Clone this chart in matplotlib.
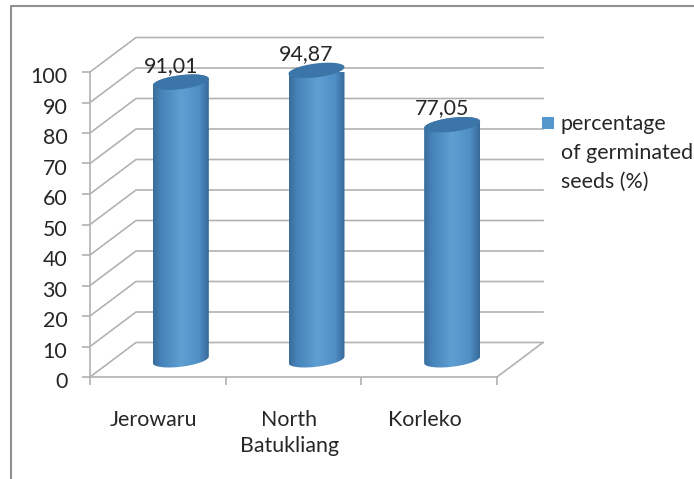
import numpy as np
import matplotlib
matplotlib.use("Agg")
import matplotlib.pyplot as plt
from matplotlib.colors import LinearSegmentedColormap
from matplotlib.lines import Line2D
from matplotlib.patches import PathPatch, Polygon, Rectangle
from matplotlib.path import Path
from matplotlib.transforms import ScaledTranslation

categories = ["Jerowaru", "North\nBatukliang", "Korleko"]
values = [91.01, 94.87, 77.05]
value_labels = ["91,01", "94,87", "77,05"]
y_ticks = list(range(0, 101, 10))
legend_lines = ["percentage", "of germinated", "seeds (%)"]

W, H = 694, 479
GRID = "#b2b2b2"
TEXT = "#262626"
DX = 46 / 135.67   # depth of the 3d box, in category units
DY = 34.5 / 3.05   # depth of the 3d box, in value units
PX_X = 1 / 135.67
PX_Y = 1 / 3.05

plt.rcParams["font.family"] = ["Lato", "DejaVu Sans"]
plt.rcParams["font.size"] = 15.4

fig = plt.figure(figsize=(W / 100, H / 100), dpi=100)
ax = fig.add_axes([90 / W, (H - 377) / H, 407 / W, 305 / H])
ax.patch.set_alpha(0)


def ellipse(cx, cy, t):
    # tilted cap of the cylinder, left side sits lower than the right
    x = cx + 28 * PX_X * np.cos(t)
    y = cy + 7 * PX_Y * np.sin(t) + 3.3 * PX_Y * np.cos(t)
    return x, y


# walls and floor
for v in y_ticks:
    ax.plot([0, DX, 3 + DX], [v, v + DY, v + DY], color=GRID, lw=1.2, clip_on=False, zorder=1)
ax.plot([3, 3 + DX], [0, DY], color=GRID, lw=1.2, clip_on=False, zorder=1)

# cylinders
cmap = LinearSegmentedColormap.from_list(
    "cyl", [(0, "#386c9b"), (0.14, "#4683b8"), (0.5, "#5f9fd2"),
            (0.82, "#4f8fc5"), (1, "#38699a")])
gradient = np.linspace(0, 1, 256).reshape(1, -1)
for i, v in enumerate(values):
    cx = i + 0.5 + DX / 2
    x0, x1 = cx - 28 * PX_X, cx + 28 * PX_X
    t_top = np.linspace(0, np.pi, 60)
    t_bot = np.linspace(np.pi, 2 * np.pi, 60)
    xt, yt = ellipse(cx, v + DY / 2, t_top)
    xb, yb = ellipse(cx, DY / 2, t_bot)
    body = np.column_stack([np.r_[xb, xt], np.r_[yb, yt]])
    im = ax.imshow(gradient, cmap=cmap, aspect="auto", extent=[x0, x1, -5, 125], zorder=3)
    clip = PathPatch(Path(np.vstack([body, body[:1]])), transform=ax.transData)
    im.set_clip_path(clip)
    t = np.linspace(0, 2 * np.pi, 120)
    xc, yc = ellipse(cx, v + DY / 2, t)
    ax.add_patch(Polygon(np.column_stack([xc, yc]), closed=True, fc="#3c76a9", ec="none",
                         clip_on=False, zorder=4))
    ax.annotate(value_labels[i], (cx, v + DY / 2), xytext=(-7.2, 7.5), textcoords="offset points",
                ha="center", va="baseline", color=TEXT, zorder=5, annotation_clip=False)

ax.set_xlim(0, 3)
ax.set_ylim(0, 100)
for side in ["top", "right"]:
    ax.spines[side].set_visible(False)
for side in ["left", "bottom"]:
    ax.spines[side].set_color(GRID)
    ax.spines[side].set_linewidth(1.2)
ax.set_yticks(y_ticks)
ax.set_xticks([0, 1, 2, 3])
ax.set_xticklabels([])
ax.tick_params(axis="both", length=5.8, width=1.2, color=GRID, labelcolor=TEXT)
ax.tick_params(axis="y", pad=10.5)

# tick labels sit a little below their tick in the original
nudge = ScaledTranslation(0, -2.3 / 72, fig.dpi_scale_trans)
for label in ax.get_yticklabels():
    label.set_transform(label.get_transform() + nudge)

for i, name in enumerate(categories):
    ax.annotate(name, (i + 0.5, 0), xytext=(-3, -23.5), textcoords="offset points",
                ha="center", va="top", linespacing=1.4, color=TEXT, annotation_clip=False)

# outer frame runs off the right and bottom of the image
fig.add_artist(Line2D([11 / W, 11 / W, 1], [0, 1 - 6 / H, 1 - 6 / H], color="#8f8f8f", lw=1.5))

# legend
fig.add_artist(Rectangle((542 / W, 1 - 129 / H), 12 / W, 12 / H, fc="#5596cc", ec="none",
                         transform=fig.transFigure))
for line, base in zip(legend_lines, [130, 159, 188]):
    fig.text(561 / W, 1 - base / H, line, va="baseline", ha="left", color=TEXT)

fig.savefig("out.png", dpi=100, facecolor="white")
